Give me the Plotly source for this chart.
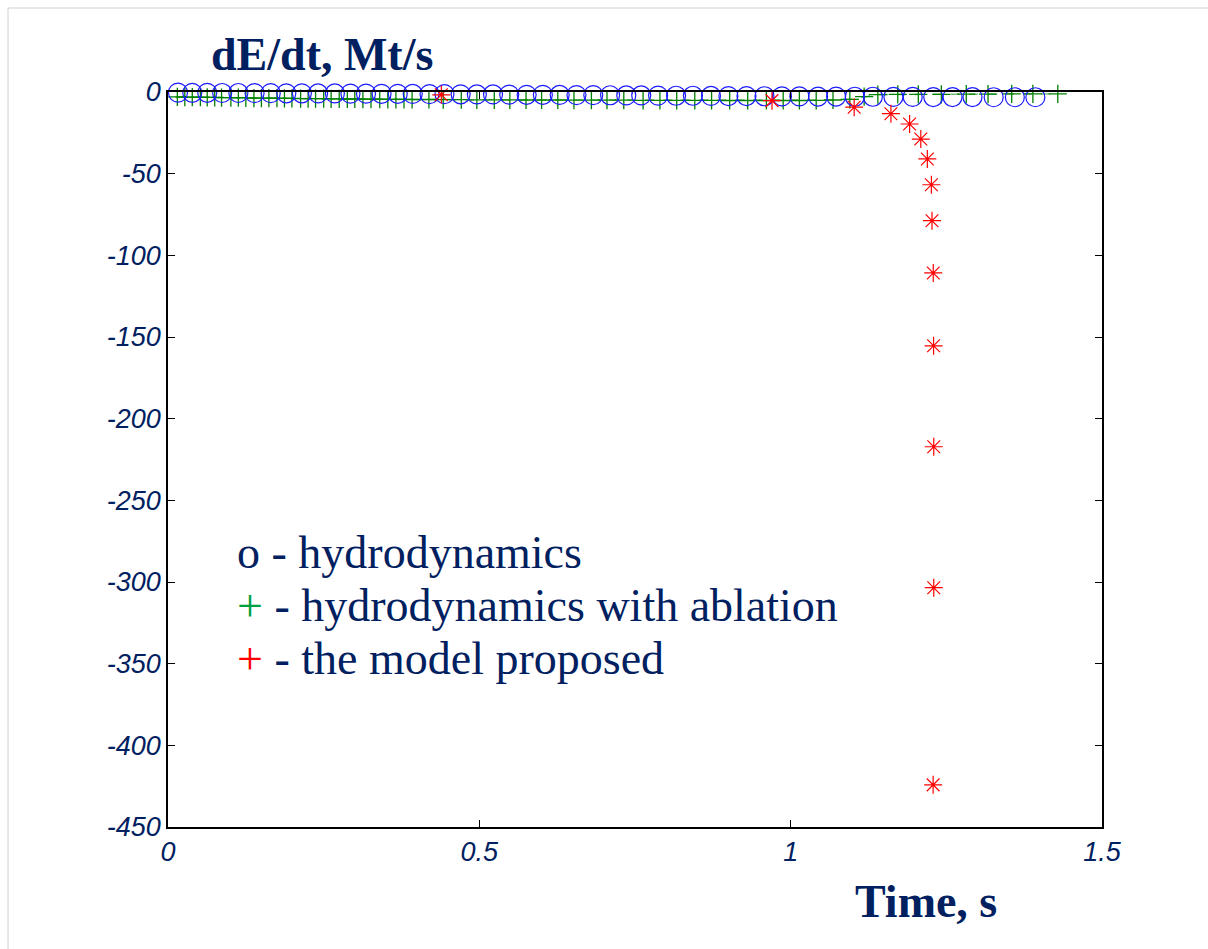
import plotly.graph_objects as go

# ---- data -------------------------------------------------------------
# hydrodynamics (open circles)
t_hydro = [0.016, 0.039, 0.063, 0.087, 0.113, 0.139, 0.165, 0.190, 0.215, 0.241,
           0.268, 0.293, 0.318, 0.343, 0.369, 0.393, 0.420, 0.444, 0.470, 0.496,
           0.522, 0.548, 0.576, 0.602, 0.629, 0.656, 0.683, 0.710, 0.736, 0.760,
           0.787, 0.816, 0.843, 0.872, 0.900, 0.929, 0.958, 0.986, 1.014, 1.044,
           1.073, 1.103, 1.132, 1.165, 1.196, 1.229, 1.260, 1.292, 1.326, 1.360,
           1.393]
dEdt_hydro = [-0.4, -0.5, -0.5, -0.6, -0.6, -0.7, -0.7, -0.8, -0.8, -0.9,
              -0.9, -1.0, -1.0, -1.1, -1.1, -1.2, -1.3, -1.3, -1.4, -1.5,
              -1.5, -1.6, -1.7, -1.7, -1.8, -1.9, -1.9, -2.0, -2.1, -2.1,
              -2.2, -2.3, -2.3, -2.4, -2.5, -2.5, -2.6, -2.7, -2.7, -2.8,
              -2.8, -2.9, -2.9, -3.0, -3.0, -3.1, -3.1, -3.1, -3.2, -3.2,
              -3.2]

# hydrodynamics with ablation (green crosses)
t_abl = [0.015, 0.027, 0.039, 0.052, 0.063, 0.075, 0.086, 0.101, 0.113, 0.125,
         0.138, 0.150, 0.162, 0.175, 0.187, 0.199, 0.213, 0.225, 0.237, 0.250,
         0.262, 0.275, 0.288, 0.300, 0.313, 0.326, 0.340, 0.353, 0.366, 0.379,
         0.392, 0.419, 0.442, 0.471, 0.496, 0.524, 0.549, 0.575, 0.600, 0.626,
         0.652, 0.680, 0.705, 0.732, 0.763, 0.790, 0.817, 0.846, 0.873, 0.902,
         0.931, 0.961, 0.988, 1.014, 1.041, 1.068, 1.095, 1.118, 1.140, 1.172,
         1.205, 1.242, 1.282, 1.317, 1.355, 1.389, 1.429]
dEdt_abl = [-3.0, -3.1, -3.1, -3.2, -3.3, -3.3, -3.4, -3.5, -3.5, -3.6,
            -3.7, -3.7, -3.8, -3.8, -3.9, -3.9, -4.0, -4.0, -4.1, -4.1,
            -4.2, -4.2, -4.3, -4.3, -4.4, -4.4, -4.4, -4.5, -4.5, -4.5,
            -4.6, -4.6, -4.7, -4.7, -4.8, -4.8, -4.8, -4.9, -4.9, -4.9,
            -5.0, -5.0, -5.0, -5.0, -5.1, -5.1, -5.1, -5.1, -5.1, -5.2,
            -5.2, -5.2, -5.2, -5.2, -5.1, -4.9, -4.5, -2.8, -1.6, -1.5,
            -1.4, -1.4, -1.3, -1.3, -1.2, -1.2, -1.2]

# the model proposed (red asterisks)
t_model = [0.439, 0.970, 1.102, 1.161, 1.191, 1.209, 1.2195, 1.226, 1.227,
           1.229, 1.2295, 1.2298, 1.2298, 1.2288]
dEdt_model = [-1.7, -5.3, -9.3, -13.3, -19.6, -28.8, -41.0, -56.8, -78.8,
              -110.8, -155.4, -217.2, -303.5, -424.2]

x_ticks = [0, 0.5, 1, 1.5]
x_ticklabels = ["0", "0.5", "1", "1.5"]
y_ticks = [0, -50, -100, -150, -200, -250, -300, -350, -400, -450]
y_ticklabels = ["0", "-50", "-100", "-150", "-200", "-250", "-300", "-350", "-400", "-450"]

# ---- layout geometry ---------------------------------------------------
W_FIG, H_FIG = 1208, 949
L, R, T, B = 168, 106, 92, 122
PW, PH = W_FIG - L - R, H_FIG - T - B

NAVY = "#002060"
SERIF = "Liberation Serif, Times New Roman, serif"
SANS = "Liberation Sans, Arial, sans-serif"


def px(xp):
    return (xp - L) / PW


def py(yp):
    return 1 - (yp - T) / PH


fig = go.Figure()

fig.add_trace(go.Scatter(
    x=t_abl, y=dEdt_abl, mode="lines+markers", name="hydrodynamics with ablation",
    line=dict(color="rgba(0,128,0,0.55)", width=1.5, dash="dash"),
    marker=dict(symbol="cross-thin-open", size=13, color="#008000",
                line=dict(color="#008000", width=1.3)),
    cliponaxis=False,
))
fig.add_trace(go.Scatter(
    x=t_hydro, y=dEdt_hydro, mode="markers", name="hydrodynamics",
    marker=dict(symbol="circle-open", size=19, color="#1a1aff",
                line=dict(color="#1a1aff", width=1.2)),
    cliponaxis=False,
))
fig.add_trace(go.Scatter(
    x=t_model, y=dEdt_model, mode="markers", name="the model proposed",
    marker=dict(symbol="asterisk-open", size=15, color="#ff0000",
                line=dict(color="#ff0000", width=1.2)),
    cliponaxis=False,
))

axis_common = dict(
    showgrid=False, zeroline=False, showline=True, linecolor="black",
    linewidth=1.5, mirror="ticks", ticks="inside", ticklen=7,
    tickcolor="black", tickwidth=1,
    tickfont=dict(family=SANS, size=27, color=NAVY, style="italic"),
)

fig.update_xaxes(range=[0, 1.5], tickvals=x_ticks, ticktext=x_ticklabels,
                 **axis_common)
fig.update_yaxes(range=[-450, 0], tickvals=y_ticks, ticktext=y_ticklabels,
                 **axis_common)

annotations = [
    dict(text="<b>dE/dt, Mt/s</b>", x=px(209), y=py(55), xanchor="left",
         yanchor="middle", font=dict(family=SERIF, size=46, color=NAVY)),
    dict(text="<b>Time, s</b>", x=px(926), y=py(902), xanchor="center",
         yanchor="middle", font=dict(family=SERIF, size=46, color=NAVY)),
    dict(text="o - hydrodynamics", x=px(235), y=py(552), xanchor="left",
         yanchor="middle", font=dict(family=SERIF, size=46, color=NAVY)),
    dict(text="<span style='color:#00a040'>+</span> - hydrodynamics with ablation",
         x=px(235), y=py(605), xanchor="left", yanchor="middle",
         font=dict(family=SERIF, size=46, color=NAVY)),
    dict(text="<span style='color:#ff0000'>+</span> - the model proposed",
         x=px(235), y=py(658), xanchor="left", yanchor="middle",
         font=dict(family=SERIF, size=46, color=NAVY)),
]
for a in annotations:
    a.update(xref="paper", yref="paper", showarrow=False)

# thin grey frame along the top and left of the page
shapes = [
    dict(type="line", xref="paper", yref="paper", x0=px(8), x1=px(1208),
         y0=py(8), y1=py(8), line=dict(color="#d0d0d0", width=1)),
    dict(type="line", xref="paper", yref="paper", x0=px(8), x1=px(8),
         y0=py(8), y1=py(949), line=dict(color="#d0d0d0", width=1)),
]

fig.update_layout(
    width=W_FIG, height=H_FIG,
    margin=dict(l=L, r=R, t=T, b=B, pad=0),
    paper_bgcolor="white", plot_bgcolor="white",
    showlegend=False,
    annotations=annotations,
    shapes=shapes,
)

fig.write_html("out.html")
